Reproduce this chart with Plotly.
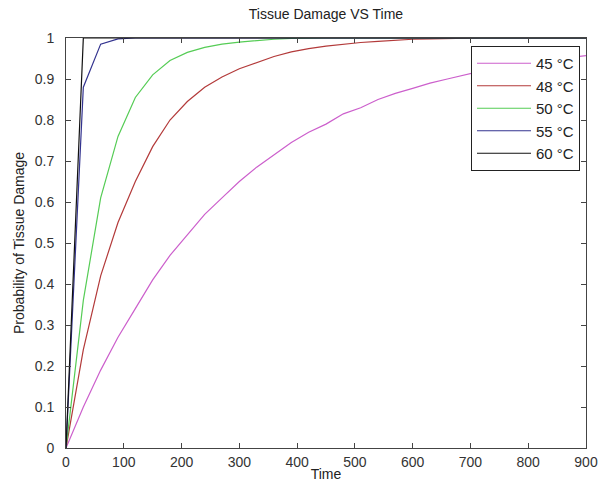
import plotly.graph_objects as go

# Time samples (s)
time = list(range(0, 901, 30))

# Probability of tissue damage for each temperature
p45 = [0, 0.10, 0.19, 0.27, 0.34, 0.41, 0.47, 0.52, 0.57, 0.61, 0.65, 0.685, 0.715,
       0.745, 0.77, 0.79, 0.815, 0.83, 0.85, 0.865, 0.877, 0.89, 0.90, 0.91, 0.92,
       0.928, 0.935, 0.941, 0.947, 0.952, 0.957]
p48 = [0, 0.24, 0.42, 0.55, 0.65, 0.735, 0.80, 0.845, 0.88, 0.905, 0.925, 0.94, 0.955,
       0.966, 0.974, 0.98, 0.985, 0.989, 0.992, 0.995, 0.997, 0.998, 0.999, 1.0, 1.0,
       1.0, 1.0, 1.0, 1.0, 1.0, 1.0]
p50 = [0, 0.36, 0.61, 0.76, 0.855, 0.91, 0.945, 0.965, 0.977, 0.985, 0.99, 0.994, 0.997,
       0.999, 1.0, 1.0, 1.0, 1.0, 1.0, 1.0, 1.0, 1.0, 1.0, 1.0, 1.0, 1.0, 1.0, 1.0, 1.0,
       1.0, 1.0]
p55 = [0, 0.88, 0.985, 0.998, 1.0, 1.0, 1.0, 1.0, 1.0, 1.0, 1.0, 1.0, 1.0, 1.0, 1.0,
       1.0, 1.0, 1.0, 1.0, 1.0, 1.0, 1.0, 1.0, 1.0, 1.0, 1.0, 1.0, 1.0, 1.0, 1.0, 1.0]
p60 = [0, 1.0, 1.0, 1.0, 1.0, 1.0, 1.0, 1.0, 1.0, 1.0, 1.0, 1.0, 1.0, 1.0, 1.0, 1.0,
       1.0, 1.0, 1.0, 1.0, 1.0, 1.0, 1.0, 1.0, 1.0, 1.0, 1.0, 1.0, 1.0, 1.0, 1.0]

labels = ["45 °C", "48 °C", "50 °C", "55 °C", "60 °C"]
colors = ["#cc5fcc", "#b33a3a", "#55cc55", "#33338f", "#111111"]
series = [p45, p48, p50, p55, p60]

x_ticks = list(range(0, 901, 100))
y_ticks = [round(0.1 * i, 1) for i in range(11)]
y_ticktext = ["0", "0.1", "0.2", "0.3", "0.4", "0.5", "0.6", "0.7", "0.8", "0.9", "1"]

FONT = "Liberation Sans, Arial, sans-serif"

fig = go.Figure()
for i, (lab, col, vals) in enumerate(zip(labels, colors, series)):
    fig.add_trace(go.Scatter(
        x=time, y=vals, mode="lines", name=lab, legendgroup=str(i),
        line=dict(color=col, width=1.2),
    ))

fig.update_layout(
    width=598, height=489,
    margin=dict(l=66, r=12, t=38, b=41),
    paper_bgcolor="white", plot_bgcolor="white",
    font=dict(family=FONT, size=14, color="#333333"),
    title=dict(text="Tissue Damage VS Time", x=(66 + 586) / 2 / 598, xanchor="center",
               y=1 - 14 / 489, yanchor="middle",
               font=dict(family=FONT, size=14, color="#222222")),
    xaxis=dict(
        range=[0, 900], tickvals=x_ticks, ticks="inside", ticklen=5,
        tickcolor="#444444", showline=True, linecolor="#444444", linewidth=1,
        mirror="ticks", showgrid=False, zeroline=False, automargin=False,
        ticklabelstandoff=1,
        title=dict(text="Time", standoff=0, font=dict(size=14, color="#222222")),
        tickfont=dict(size=14, color="#333333"),
    ),
    yaxis=dict(
        range=[0, 1], tickvals=y_ticks, ticktext=y_ticktext, ticks="inside", ticklen=5,
        tickcolor="#444444", showline=True, linecolor="#444444", linewidth=1,
        mirror="ticks", showgrid=False, zeroline=False, automargin=False,
        ticklabelstandoff=8,
        title=dict(text="Probability of Tissue Damage", standoff=6,
                   font=dict(size=14, color="#222222")),
        tickfont=dict(size=14, color="#333333"),
    ),
    legend=dict(
        x=(471 - 66) / 520, y=(448 - 46) / 410, xanchor="left", yanchor="top",
        bgcolor="white", bordercolor="#222222", borderwidth=1,
        font=dict(family=FONT, size=15, color="#222222"),
        tracegroupgap=0, itemwidth=54,
    ),
    showlegend=True,
)

fig.write_html("out.html")
